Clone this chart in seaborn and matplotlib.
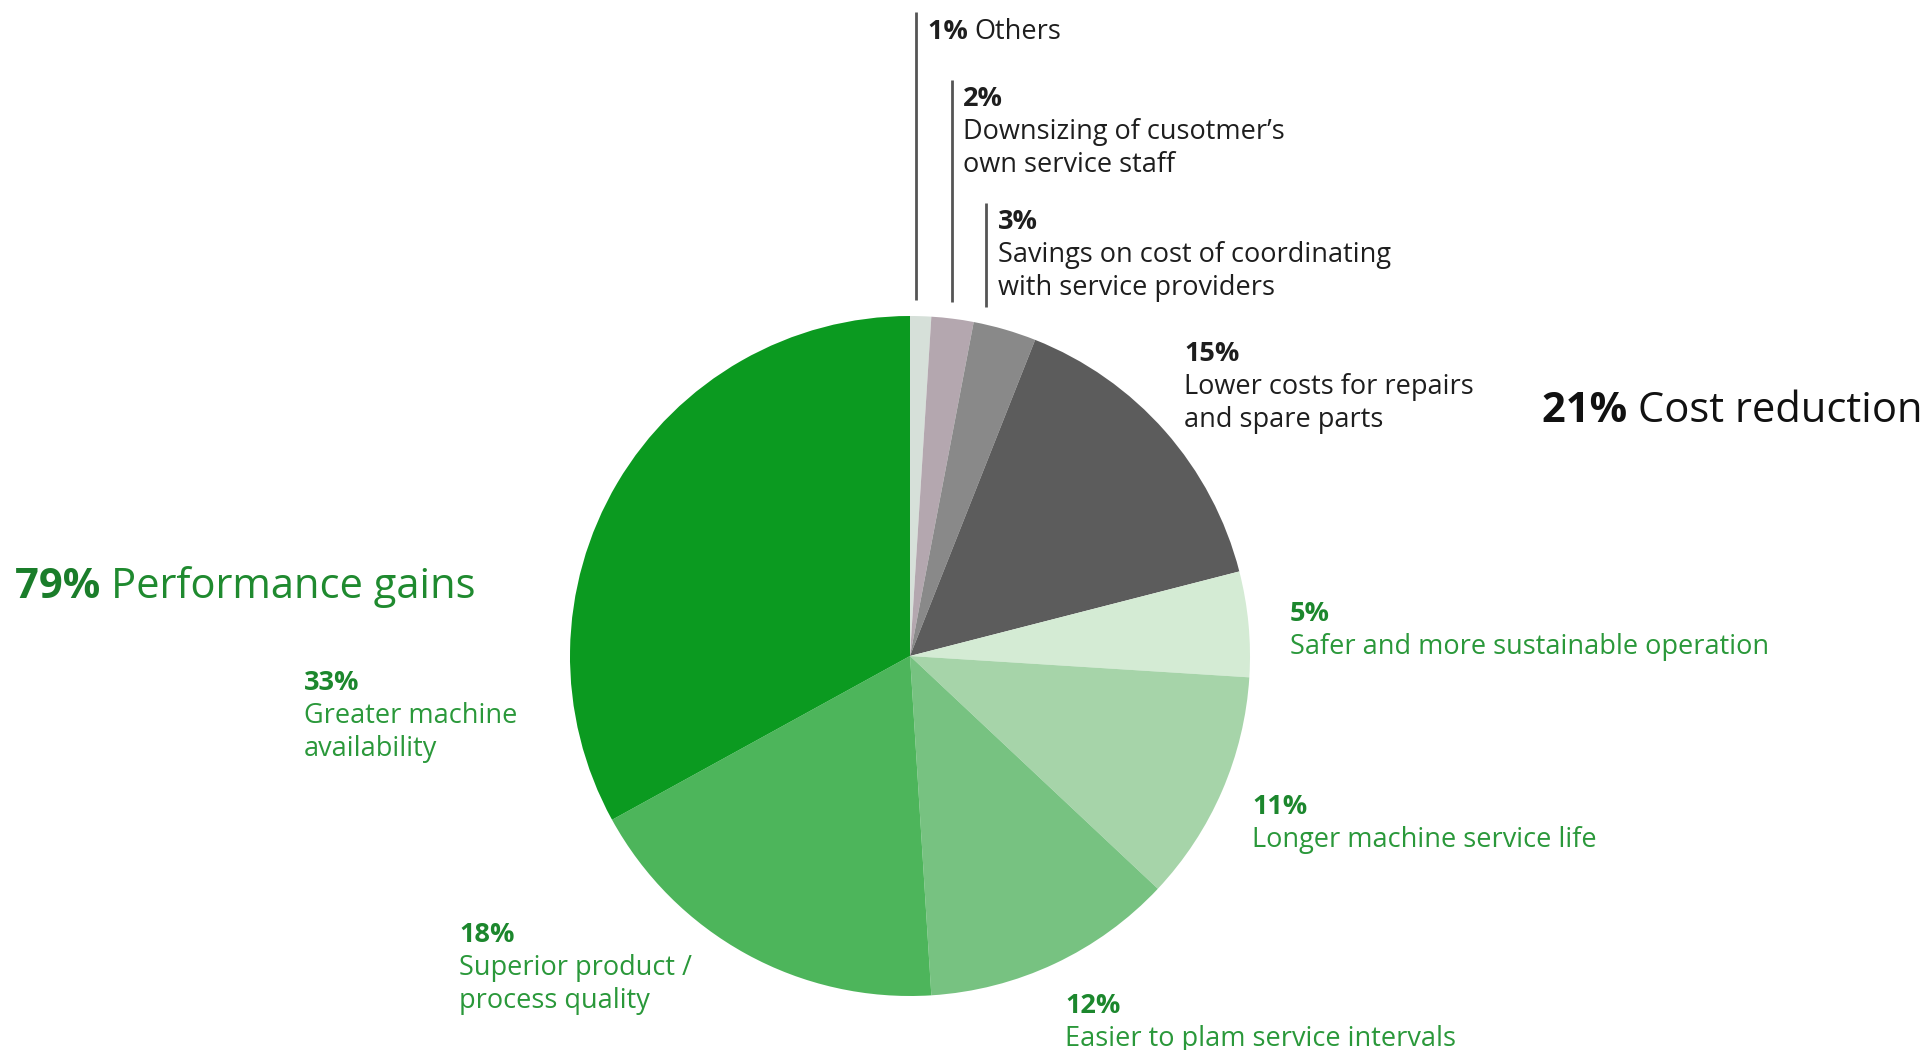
import matplotlib
matplotlib.use("Agg")
import matplotlib.pyplot as plt
import seaborn as sns

sns.set_theme(style="white")
plt.rcParams['font.family'] = ['Open Sans', 'DejaVu Sans']

# Data
categories = ["Others", "Downsizing of cusotmer\u2019s\nown service staff",
              "Savings on cost of coordinating\nwith service providers",
              "Lower costs for repairs\nand spare parts",
              "Safer and more sustainable operation",
              "Longer machine service life",
              "Easier to plam service intervals",
              "Superior product /\nprocess quality",
              "Greater machine\navailability"]
values = [1, 2, 3, 15, 5, 11, 12, 18, 33]
groups = ["cost", "cost", "cost", "cost", "perf", "perf", "perf", "perf", "perf"]
group_pct = {"perf": "79%", "cost": "21%"}
group_name = {"perf": "Performance gains", "cost": "Cost reduction"}

colors = ["#d6e0d9", "#b4a7af", "#898989", "#5c5c5c",
          "#d4ebd4", "#a6d4a9", "#77c281", "#4db55b", "#0b9a20"]

W, H = 1928, 1050
fig = plt.figure(figsize=(W / 100, H / 100), dpi=100)
ax = fig.add_axes([0, 0, 1, 1])
ax.set_xlim(0, W)
ax.set_ylim(0, H)
ax.set_aspect('equal')
ax.axis('off')

cx, cy, r = 910, H - 656, 340
ax.pie(values, colors=colors, startangle=90, counterclock=False,
       center=(cx, cy), radius=r, wedgeprops=dict(linewidth=0))
ax.set_xlim(0, W)
ax.set_ylim(0, H)

GREEN = "#2a983a"
GREEN_B = "#1c872d"
DARK = "#1e1e1e"
SMALL = 19.5
DY = 4
renderer = fig.canvas.get_renderer()

def t(x, y, s, color, size=SMALL, weight='normal', ha='left'):
    return ax.text(x, H - y - DY, s, color=color, fontsize=size, fontweight=weight,
                   ha=ha, va='center')

def pair(x, y, bold, rest, bcol, col, size):
    b = t(x, y, bold + " ", bcol, size=size, weight='bold')
    w = b.get_window_extent(renderer=renderer).width
    t(x + w, y, rest, col, size=size)

# label positions (pixels from top-left)
label_pos = [(928, 28), (963, 95), (998, 218), (1184, 350),
             (1290, 610), (1252, 803), (1065, 1002), (459, 931), (304, 679)]
line_gap = 33

for i, (cat, val, grp) in enumerate(zip(categories, values, groups)):
    x, y = label_pos[i]
    col = DARK if grp == "cost" else GREEN
    bcol = DARK if grp == "cost" else GREEN_B
    if i == 0:
        pair(x, y, f"{val}%", cat, bcol, col, SMALL)
    else:
        t(x, y, f"{val}%", bcol, weight='bold')
        for j, line in enumerate(cat.split("\n")):
            t(x, y + line_gap * (j + 1), line, col)

# leader lines for the small slices
for (lx, y0, y1) in [(916, 12, 300), (952, 80, 302), (986, 203, 307)]:
    ax.plot([lx, lx], [H - y0, H - y1], color="#555555", lw=2, solid_capstyle='butt')

# group titles
pair(15, 583, group_pct["perf"], group_name["perf"], "#1a7d2a", "#1f8a2f", 30)
pair(1542, 407, group_pct["cost"], group_name["cost"], "#111111", "#111111", 30)

fig.savefig("out.png", dpi=100, facecolor="white")
